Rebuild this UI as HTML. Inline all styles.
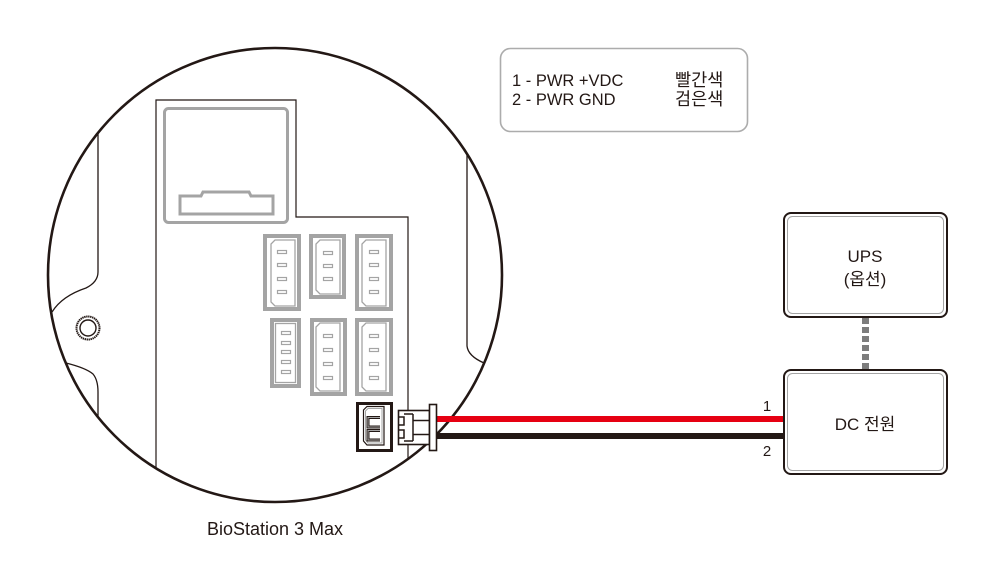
<!DOCTYPE html>
<html><head><meta charset="utf-8"><style>
html,body{margin:0;padding:0;background:#fff;}
svg{display:block;}
text{font-family:"Liberation Sans","Noto Sans CJK KR",sans-serif;fill:#231815;}
</style></head><body>
<svg width="999" height="579" viewBox="0 0 999 579" xmlns="http://www.w3.org/2000/svg">
<rect width="999" height="579" fill="#fff"/>

<!-- main circle -->
<circle cx="275" cy="275" r="227" fill="none" stroke="#231815" stroke-width="2.6"/>

<!-- left notch -->
<path d="M98,133 L98,272 Q98,282 86,288 Q62,296 52,312" fill="none" stroke="#231815" stroke-width="1.3"/>
<path d="M66,363 Q86,368 93,374 Q98,380 98,392 L98,417" fill="none" stroke="#231815" stroke-width="1.3"/>
<!-- screw -->
<circle cx="88" cy="328" r="11.5" fill="none" stroke="#231815" stroke-width="2" stroke-dasharray="1.4 0.6"/>
<circle cx="88" cy="328" r="8" fill="none" stroke="#231815" stroke-width="1.4"/>

<!-- right notch -->
<path d="M467,154 L467,346 Q468,356 484,363" fill="none" stroke="#231815" stroke-width="1.3"/>

<!-- board outline -->
<path d="M156,468 L156,100 L296,100 L296,217 L408,217 L408,459" fill="none" stroke="#231815" stroke-width="1.2"/>

<!-- big gray module -->
<rect x="164.5" y="108.5" width="123" height="114" rx="4" fill="none" stroke="#a4a4a4" stroke-width="3"/>
<path d="M180,196 L201,196 L203,192 L249,192 L251,196 L273,196 L273,214 L180,214 Z" fill="none" stroke="#a4a4a4" stroke-width="3"/>

<!-- gray connectors -->
<g fill="none" stroke="#a4a4a4">
  <rect x="265" y="236" width="34" height="73" stroke-width="4"/>
  <path d="M275,240 L295,240 L295,306 L275,306 L271,302 L271,244 Z" stroke-width="1.3"/>
  <rect x="311" y="236" width="33" height="61" stroke-width="4"/>
  <path d="M320,240 L340,240 L340,294 L320,294 L316,290 L316,244 Z" stroke-width="1.3"/>
  <rect x="357" y="236" width="34" height="73" stroke-width="4"/>
  <path d="M366,240 L386,240 L386,306 L366,306 L362,302 L362,244 Z" stroke-width="1.3"/>
  <rect x="272" y="320" width="27" height="66" stroke-width="4"/>
  <rect x="275.5" y="323.5" width="20" height="59" stroke-width="1.3"/>
  <rect x="312" y="320" width="33" height="74" stroke-width="4"/>
  <path d="M320,323 L340,323 L340,391 L320,391 L316,387 L316,327 Z" stroke-width="1.3"/>
  <rect x="357" y="320" width="34" height="74" stroke-width="4"/>
  <path d="M366,323 L386,323 L386,391 L366,391 L362,387 L362,327 Z" stroke-width="1.3"/>
</g>
<g fill="#fff" stroke="#a4a4a4" stroke-width="1.2">
  <rect x="277.5" y="250.5" width="9" height="3"/>
  <rect x="277.5" y="263.5" width="9" height="3"/>
  <rect x="277.5" y="277.5" width="9" height="3"/>
  <rect x="277.5" y="290.5" width="9" height="3"/>
  <rect x="323.5" y="251.5" width="9" height="3"/>
  <rect x="323.5" y="264.5" width="9" height="3"/>
  <rect x="323.5" y="277.5" width="9" height="3"/>
  <rect x="369.5" y="250.5" width="9" height="3"/>
  <rect x="369.5" y="263.5" width="9" height="3"/>
  <rect x="369.5" y="277.5" width="9" height="3"/>
  <rect x="369.5" y="290.5" width="9" height="3"/>
  <rect x="281.5" y="331.5" width="9" height="3"/>
  <rect x="281.5" y="341.5" width="9" height="3"/>
  <rect x="281.5" y="350.5" width="9" height="3"/>
  <rect x="281.5" y="360.5" width="9" height="3"/>
  <rect x="281.5" y="370.5" width="9" height="3"/>
  <rect x="323.5" y="334.5" width="9" height="3"/>
  <rect x="323.5" y="348.5" width="9" height="3"/>
  <rect x="323.5" y="362.5" width="9" height="3"/>
  <rect x="323.5" y="376.5" width="9" height="3"/>
  <rect x="369.5" y="334.5" width="9" height="3"/>
  <rect x="369.5" y="348.5" width="9" height="3"/>
  <rect x="369.5" y="362.5" width="9" height="3"/>
  <rect x="369.5" y="376.5" width="9" height="3"/>
</g>

<!-- wires -->
<rect x="436" y="416" width="347" height="6" fill="#e60012"/>
<rect x="436" y="433" width="347" height="6" fill="#231815"/>

<!-- black connector on board -->
<rect x="357.5" y="403.5" width="34" height="47" fill="#fff" stroke="#231815" stroke-width="3"/>
<path d="M367,406.5 L384,406.5 L384,445 L367,445 L363.5,441 L363.5,410 Z" fill="none" stroke="#231815" stroke-width="1.2"/>
<path d="M368,408.5 L382,408.5 L382,443 L368,443 L365.5,440 L365.5,411 Z" fill="none" stroke="#a4a4a4" stroke-width="1"/>
<path d="M380,417.5 L368,417.5 L368,427 L380,427" fill="none" stroke="#231815" stroke-width="3"/>
<path d="M380,417.5 L368,417.5 L368,427 L380,427" fill="none" stroke="#a4a4a4" stroke-width="1"/>
<path d="M380,430.5 L368,430.5 L368,440 L380,440" fill="none" stroke="#231815" stroke-width="3"/>
<path d="M380,430.5 L368,430.5 L368,440 L380,440" fill="none" stroke="#a4a4a4" stroke-width="1"/>

<!-- plug -->
<g fill="#fff" stroke="#231815" stroke-width="1.6">
  <rect x="398.5" y="410.5" width="31" height="34"/>
  <rect x="429.5" y="404.5" width="7" height="46"/>
</g>
<path d="M398.5,417 L404,417 L404,425 L398.5,425 M398.5,430 L404,430 L404,438 L398.5,438 M413,414 L413,441 M413,420.5 L429,420.5 M413,434.5 L429,434.5 M404,414 L413,414 M404,441 L413,441" fill="none" stroke="#231815" stroke-width="1.5"/>

<!-- legend box -->
<rect x="500.5" y="48.5" width="247" height="83" rx="10" fill="none" stroke="#acacac" stroke-width="1.6"/>
<text x="512" y="86" font-size="16.5">1 - PWR +VDC</text>
<text x="512" y="105" font-size="16.5">2 - PWR GND</text>
<text x="675" y="86" font-size="17.5">빨간색</text>
<text x="675" y="105" font-size="17.5">검은색</text>

<!-- UPS box -->
<rect x="784" y="213" width="163" height="104" rx="7" fill="#fff" stroke="#231815" stroke-width="2"/>
<rect x="787.5" y="216.5" width="156" height="97" rx="5" fill="none" stroke="#a4a4a4" stroke-width="1"/>
<text x="865" y="262" font-size="17" text-anchor="middle">UPS</text>
<text x="865" y="285" font-size="17" text-anchor="middle">(옵션)</text>

<!-- dotted link -->
<line x1="865.5" y1="318" x2="865.5" y2="369" stroke="#7d7d7d" stroke-width="7" stroke-dasharray="6 3"/>

<!-- DC box -->
<rect x="784" y="370" width="163" height="104" rx="7" fill="#fff" stroke="#231815" stroke-width="2"/>
<rect x="787.5" y="373.5" width="156" height="97" rx="5" fill="none" stroke="#a4a4a4" stroke-width="1"/>
<text x="865" y="430" font-size="17" text-anchor="middle">DC 전원</text>

<!-- wire labels -->
<text x="767" y="411" font-size="15" text-anchor="middle">1</text>
<text x="767" y="456" font-size="15" text-anchor="middle">2</text>

<!-- caption -->
<text x="275" y="535" font-size="18" text-anchor="middle">BioStation 3 Max</text>
</svg>
</body></html>
